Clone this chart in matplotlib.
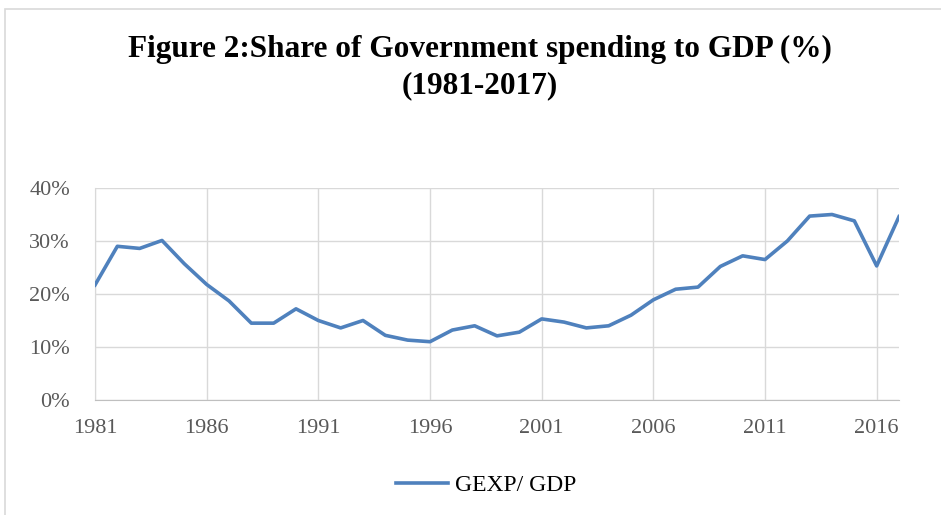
import matplotlib
matplotlib.use('Agg')
import matplotlib.pyplot as plt
import matplotlib.patches as mpatches
from matplotlib.ticker import FuncFormatter, MultipleLocator

# data (share of GDP, %)
years = list(range(1981, 2018))
gexp_gdp = [21.7, 29.0, 28.6, 30.1, 25.7, 21.8, 18.7, 14.5, 14.5, 17.2,
            15.0, 13.6, 15.0, 12.2, 11.3, 11.0, 13.2, 14.0, 12.1, 12.8,
            15.3, 14.7, 13.6, 14.0, 16.0, 18.9, 20.9, 21.3, 25.2, 27.2,
            26.5, 30.0, 34.7, 35.0, 33.8, 25.3, 34.6]
xtick_years = [1981, 1986, 1991, 1996, 2001, 2006, 2011, 2016]

W, H = 941, 515
fig = plt.figure(figsize=(W/100, H/100), dpi=100)
plt.rcParams['font.family'] = ['Liberation Serif', 'DejaVu Serif']

# chart frame (light grey border, cut off at right/bottom like the screenshot)
fig.patches.append(mpatches.Rectangle((5/W, -0.1), 1.2, 1 - 9/H + 0.1,
                                      transform=fig.transFigure, fill=False,
                                      edgecolor='#D9D9D9', linewidth=1.2))

ax = fig.add_axes([95/W, 1 - 400/H, (899-95)/W, (400-188)/H])
ax.plot(years, gexp_gdp, color='#4F81BD', linewidth=2.6, label='GEXP/ GDP',
        solid_joinstyle='round', zorder=3)

ax.set_xlim(1981, 2017)
ax.set_ylim(0, 40)
ax.yaxis.set_major_locator(MultipleLocator(10))
ax.yaxis.set_major_formatter(FuncFormatter(lambda v, p: '%d%%' % v))
ax.set_xticks(xtick_years)
ax.grid(True, color='#D9D9D9', linewidth=1.0, zorder=0)
ax.tick_params(length=0, labelsize=16, colors='#595959')
ax.tick_params(axis='x', pad=14)
ax.tick_params(axis='y', pad=18)
for side in ['top', 'right']:
    ax.spines[side].set_visible(False)
ax.spines['bottom'].set_color('#BFBFBF')
ax.spines['left'].set_color('#D9D9D9')

fig.text(480/W, 1 - 49/H, 'Figure 2:Share of Government spending to GDP (%)',
         ha='center', va='center', fontsize=22.5, fontweight='bold')
fig.text(480/W, 1 - 86/H, '(1981-2017)',
         ha='center', va='center', fontsize=22.5, fontweight='bold')

fig.legend(loc='center', bbox_to_anchor=(486/W, 1 - 485/H), frameon=False,
           fontsize=17, handlelength=2.2, handletextpad=0.3)

fig.savefig('out.png', dpi=100)
